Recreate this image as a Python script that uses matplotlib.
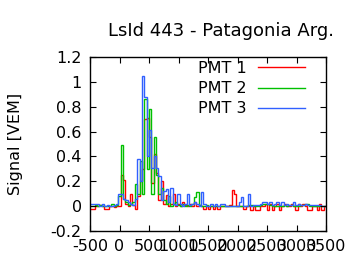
import numpy as np
import matplotlib.pyplot as plt

# time bins (40 units wide) from -500 to 3500
bin_edges = np.arange(-500, 3501, 40)

pmt1 = [-0.02, -0.02, 0.0, 0.0, 0.01, 0.0, -0.02, -0.02, 0.0, 0.0,
        -0.01, 0.0, 0.0, 0.25, 0.21, 0.02, 0.0, 0.1, 0.01, -0.02,
        0.08, 0.2, 0.3, 0.7, 0.71, 0.56, 0.19, 0.42, 0.27, 0.05,
        0.2, 0.02, 0.09, 0.0, 0.02, 0.1, 0.0, 0.02, 0.0, 0.03,
        0.01, 0.0, 0.02, 0.0, 0.03, 0.0, 0.01, 0.0, -0.02, 0.0,
        -0.02, 0.0, -0.02, 0.0, -0.02, 0.0, 0.0, 0.0, 0.0, 0.01,
        0.13, 0.1, 0.0, 0.0, 0.0, -0.02, 0.0, 0.0, -0.03, 0.0,
        -0.03, -0.03, 0.0, 0.0, 0.02, -0.03, 0.02, -0.03, 0.0, 0.02,
        -0.03, 0.0, 0.02, 0.0, 0.0, 0.02, 0.0, -0.03, 0.02, 0.0,
        0.02, 0.0, -0.03, -0.03, 0.0, 0.0, -0.03, 0.02, -0.03, 0.0]

pmt2 = [0.0, 0.0, 0.01, 0.0, 0.01, 0.0, 0.0, 0.0, 0.0, 0.02,
        0.0, 0.01, 0.08, 0.49, 0.06, 0.03, 0.01, 0.02, 0.03, 0.18,
        0.1, 0.36, 0.1, 0.86, 0.3, 0.78, 0.1, 0.56, 0.25, 0.1,
        0.15, 0.05, 0.02, 0.08, 0.0, 0.02, 0.03, 0.01, 0.0, 0.02,
        0.0, 0.01, 0.0, 0.02, 0.07, 0.115, 0.01, 0.0, 0.0, 0.01,
        0.0, 0.0, 0.0, 0.0, 0.0, 0.0, 0.0, 0.0, 0.0, 0.0,
        0.0, 0.0, 0.0, 0.0, 0.0, 0.0, 0.0, 0.01, 0.01, 0.0,
        0.0, 0.0, 0.01, 0.015, 0.015, 0.015, 0.01, 0.0, 0.0, 0.0,
        0.0, 0.0, 0.01, 0.0, 0.01, 0.01, 0.0, 0.0, 0.0, 0.01,
        0.01, 0.015, 0.015, 0.0, 0.0, 0.0, 0.0, 0.0, 0.0, 0.0]

pmt3 = [0.02, 0.02, 0.02, 0.02, 0.0, 0.02, 0.0, 0.01, 0.0, 0.0,
        0.01, 0.02, 0.1, 0.1, 0.06, 0.05, 0.03, 0.02, 0.01, 0.06,
        0.38, 0.2, 1.05, 0.88, 0.4, 0.61, 0.31, 0.4, 0.31, 0.24,
        0.05, 0.12, 0.14, 0.03, 0.15, 0.02, 0.01, 0.1, 0.02, 0.0,
        0.02, 0.1, 0.01, 0.02, 0.03, 0.02, 0.0, 0.11, 0.02, 0.0,
        0.0, 0.02, 0.0, 0.02, 0.0, 0.02, 0.02, 0.0, 0.0, 0.0,
        0.0, 0.0, 0.0, 0.03, 0.07, 0.0, 0.0, 0.1, 0.0, 0.01,
        0.01, 0.01, 0.02, 0.03, 0.03, 0.02, 0.03, 0.01, 0.02, 0.03,
        0.01, 0.03, 0.01, 0.02, 0.01, 0.01, 0.03, 0.01, 0.02, 0.01,
        0.01, 0.02, 0.01, 0.01, 0.01, 0.01, 0.01, 0.01, 0.0, 0.0]

labels = ["PMT 1", "PMT 2", "PMT 3"]
colors = ["#ff0000", "#00c000", "#3060ff"]

plt.rcParams['axes.unicode_minus'] = False
plt.rcParams['font.size'] = 11

fig = plt.figure(figsize=(3.6, 2.7), dpi=100)
ax = fig.add_axes([0.25, 0.1444, 0.6556, 0.6446])

for vals, lab, col in zip([pmt1, pmt2, pmt3], labels, colors):
    ax.stairs(vals, bin_edges, color=col, lw=1.0, label=lab, baseline=None)

ax.set_xlim(-500, 3500)
ax.set_ylim(-0.2, 1.2)
ax.set_xticks(np.arange(-500, 3501, 500))
ax.set_yticks([-0.2, 0, 0.2, 0.4, 0.6, 0.8, 1, 1.2])
ax.set_yticklabels(["-0.2", "0", "0.2", "0.4", "0.6", "0.8", "1", "1.2"])
ax.tick_params(direction='in', top=True, right=True, length=4, width=0.8, labelsize=11.5, pad=6)
for s in ax.spines.values():
    s.set_linewidth(1.0)

ax.set_ylabel("Signal [VEM]", fontsize=11.5, labelpad=20)
fig.text(0.614, 0.887, "LsId 443 - Patagonia Arg.", ha='center', va='center', fontsize=13)

handles = [plt.Line2D([], [], color=c, lw=1.0) for c in colors]
ax.legend(handles, labels, loc='upper right', bbox_to_anchor=(0.97, 1.06),
          frameon=False, markerfirst=False, handlelength=2.9, handletextpad=0.75,
          labelspacing=0.33, fontsize=11.5)

fig.savefig("out.png", dpi=100)
